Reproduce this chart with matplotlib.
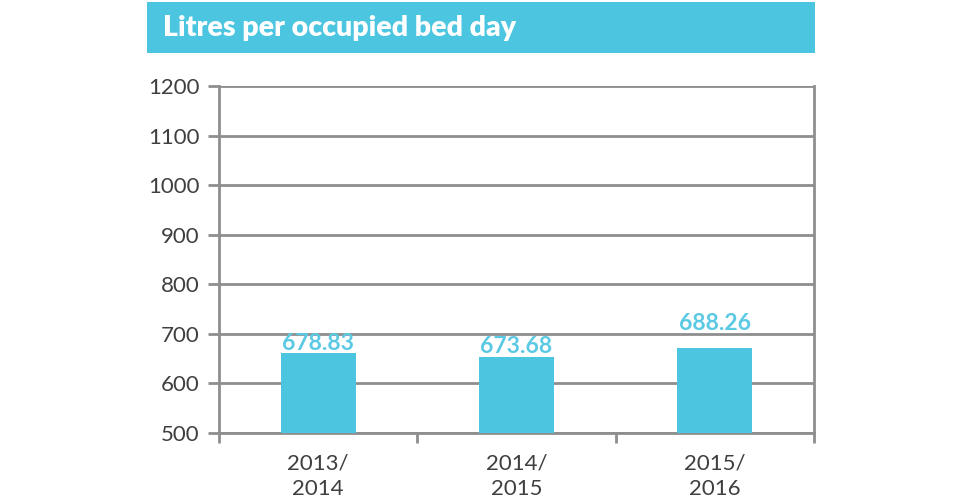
import matplotlib
matplotlib.use("Agg")
import matplotlib.pyplot as plt
from matplotlib.patches import Rectangle

# Data
categories = ["2013/\n2014", "2014/\n2015", "2015/\n2016"]
bar_values = [662, 653, 672]          # bar heights as drawn
value_labels = ["678.83", "673.68", "688.26"]
y_ticks = [500, 600, 700, 800, 900, 1000, 1100, 1200]
title = "Litres per occupied bed day"

CYAN = "#4CC5E1"
LABEL_CYAN = "#5CC9E4"
GRID = "#8E8E8E"
TEXT = "#3F3F3F"

plt.rcParams['font.family'] = ['Lato', 'DejaVu Sans']

fig = plt.figure(figsize=(9.6, 4.96), dpi=100)
fig.patch.set_facecolor("white")

# Title banner
W, H = 960, 496
fig.patches.append(Rectangle((147 / W, 1 - 53 / H), (815 - 147) / W, (53 - 2) / H,
                             transform=fig.transFigure, facecolor=CYAN,
                             edgecolor="none", zorder=0))
fig.text(163 / W, 1 - 28 / H, title, color="white", fontsize=20.5,
         fontweight="heavy", va="center", ha="left")

ax = fig.add_axes([219 / W, 1 - 433 / H, (814 - 219) / W, (433 - 86) / H])
ax.set_facecolor("white")

x = list(range(len(categories)))
bars = ax.bar(x, bar_values, width=0.378, color=CYAN, zorder=3)

ax.set_xlim(-0.5, len(categories) - 0.5)
ax.set_ylim(500, 1200)
ax.set_yticks(y_ticks)
ax.yaxis.grid(True, color=GRID, linewidth=2, zorder=1)
ax.set_axisbelow(True)

# x: boundary marks as major ticks, labels on minor ticks
ax.set_xticks([i - 0.5 for i in range(len(categories) + 1)])
ax.set_xticklabels([])
ax.set_xticks(x, minor=True)
ax.set_xticklabels(categories, minor=True)
ax.tick_params(axis="x", which="major", length=7, width=2, color=GRID, direction="out")
ax.tick_params(axis="x", which="minor", length=0, pad=15, labelsize=16, labelcolor=TEXT)
ax.tick_params(axis="y", length=8, width=2, color=GRID, direction="out",
               pad=6, labelsize=16, labelcolor=TEXT)
for lbl in ax.get_xticklabels(minor=True):
    lbl.set_linespacing(1.3)

for side in ["left", "right", "bottom"]:
    ax.spines[side].set_color(GRID)
    ax.spines[side].set_linewidth(2)
ax.spines["top"].set_visible(False)

# value labels
offsets = [-1, 0, 14]
for rect, lab, off in zip(bars, value_labels, offsets):
    ax.annotate(lab, (rect.get_x() + rect.get_width() / 2, rect.get_height()),
                xytext=(0, off * 0.72), textcoords="offset points",
                ha="center", va="bottom", color=LABEL_CYAN, fontsize=16.5,
                fontweight="bold", zorder=4)

fig.savefig("out.png", dpi=100)
